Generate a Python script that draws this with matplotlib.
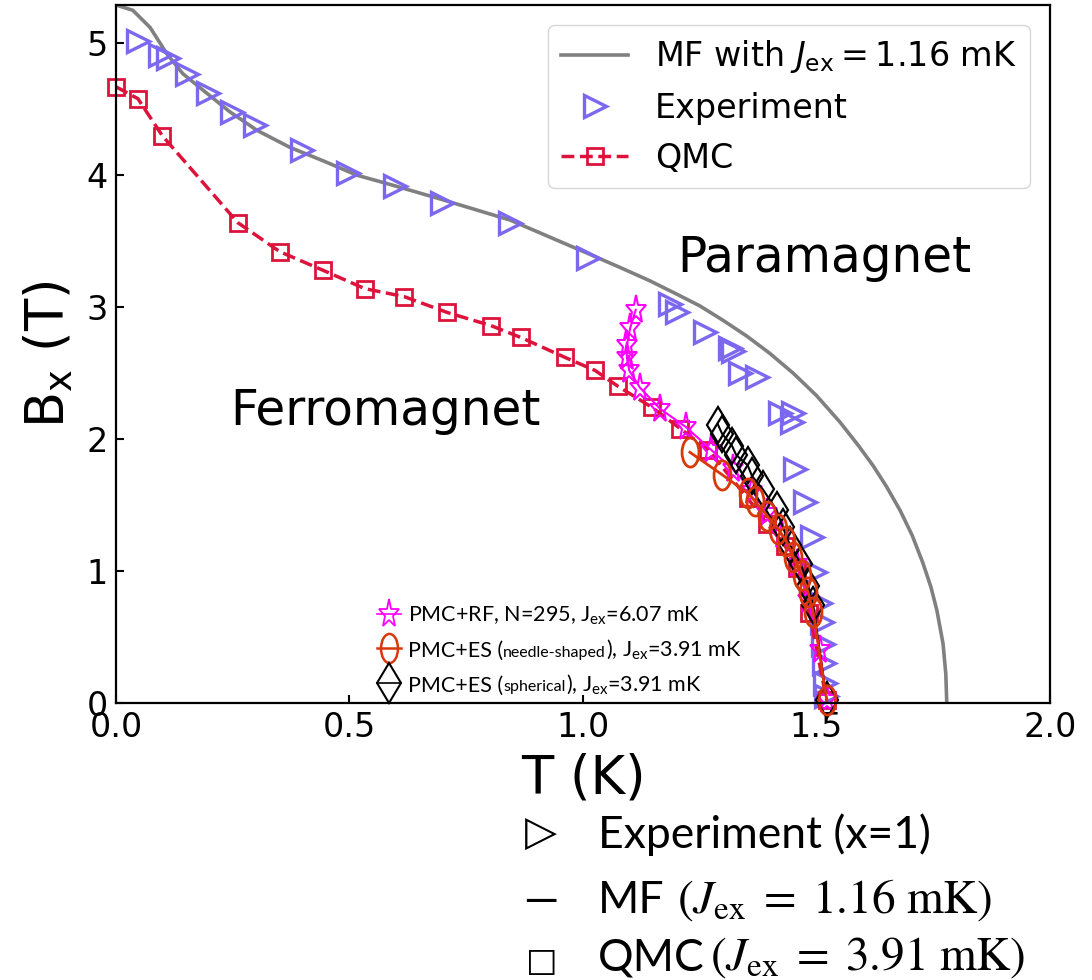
import matplotlib
matplotlib.use("Agg")
import matplotlib.pyplot as plt
from matplotlib.markers import MarkerStyle
from matplotlib.transforms import Affine2D
from matplotlib.offsetbox import AnchoredOffsetbox, HPacker, VPacker, TextArea, DrawingArea
from matplotlib.lines import Line2D

# ---------------- data ----------------
MF_T = [0.0, 0.036, 0.073, 0.109, 0.143, 0.195, 0.244, 0.302, 0.373, 0.443, 0.516,
        0.587, 0.694, 0.844, 1.015, 1.08, 1.143, 1.20, 1.25, 1.30, 1.351, 1.40,
        1.45, 1.50, 1.55, 1.59, 1.621, 1.65, 1.679, 1.705, 1.728, 1.745, 1.758,
        1.771, 1.777, 1.779]
MF_B = [5.29, 5.25, 5.12, 4.92, 4.77, 4.62, 4.48, 4.34, 4.21, 4.11, 4.00,
        3.93, 3.82, 3.66, 3.40, 3.30, 3.20, 3.10, 3.01, 2.90, 2.78, 2.65,
        2.50, 2.33, 2.13, 1.95, 1.80, 1.64, 1.46, 1.27, 1.06, 0.88, 0.70,
        0.45, 0.22, 0.0]

EXP_T = [0.047, 0.094, 0.111, 0.152, 0.197, 0.248, 0.298, 0.398, 0.497, 0.597,
         0.698, 0.844, 1.011, 1.186, 1.201, 1.261, 1.315, 1.321, 1.336, 1.373,
         1.422, 1.450, 1.448, 1.454, 1.475, 1.490, 1.497, 1.507, 1.512, 1.514,
         1.516, 1.518, 1.520]
EXP_B = [5.02, 4.91, 4.89, 4.77, 4.62, 4.48, 4.38, 4.19, 4.02, 3.92,
         3.79, 3.64, 3.37, 3.02, 2.96, 2.81, 2.69, 2.67, 2.50, 2.47,
         2.20, 2.20, 2.13, 1.77, 1.52, 1.26, 0.99, 0.76, 0.61, 0.45,
         0.30, 0.15, 0.05]

QMC_T = [0.0, 0.047, 0.099, 0.261, 0.351, 0.443, 0.533, 0.617, 0.709, 0.803,
         0.867, 0.961, 1.026, 1.075, 1.148, 1.208, 1.268, 1.353, 1.394, 1.433,
         1.458, 1.485, 1.522]
QMC_B = [4.67, 4.58, 4.30, 3.64, 3.42, 3.28, 3.14, 3.08, 2.96, 2.86,
         2.77, 2.62, 2.52, 2.40, 2.24, 2.08, 1.92, 1.55, 1.36, 1.19,
         1.02, 0.68, 0.02]

RF_T = [1.113, 1.101, 1.094, 1.094, 1.099, 1.122, 1.165, 1.221, 1.274, 1.321,
        1.362, 1.394, 1.426, 1.458, 1.482, 1.507, 1.522]
RF_B = [2.98, 2.84, 2.71, 2.62, 2.52, 2.39, 2.23, 2.09, 1.92, 1.77,
        1.61, 1.44, 1.27, 1.05, 0.78, 0.40, 0.02]

NEEDLE_T = [1.229, 1.298, 1.353, 1.368, 1.394, 1.418, 1.435, 1.450, 1.469, 1.482,
            1.493, 1.522]
NEEDLE_B = [1.90, 1.73, 1.59, 1.53, 1.42, 1.32, 1.23, 1.11, 0.97, 0.84,
            0.69, 0.02]

SPH_T = [1.289, 1.298, 1.319, 1.328, 1.353, 1.362, 1.385, 1.415, 1.428, 1.443,
         1.467, 1.482, 1.493, 1.522]
SPH_B = [2.11, 2.04, 1.95, 1.88, 1.80, 1.72, 1.62, 1.46, 1.33, 1.20,
         1.05, 0.89, 0.74, 0.02]

X_TICKS = [0.0, 0.5, 1.0, 1.5, 2.0]
X_TICKLABELS = ["0.0", "0.5", "1.0", "1.5", "2.0"]
Y_TICKS = [0, 1, 2, 3, 4, 5]
Y_TICKLABELS = ["0", "1", "2", "3", "4", "5"]

# ---------------- figure ----------------
fig = plt.figure(figsize=(10.92, 9.8), dpi=100)
ax = fig.add_axes([0.1062, 0.2827, 0.8553, 0.7122])

C_EXP = "#7B68EE"
C_QMC = "#DC143C"
C_RF = "#FF00FF"
C_NEEDLE = "#D9380A"

mf, = ax.plot(MF_T, MF_B, color="#808080", lw=2.6,
              label=r"MF with $J_{\rm ex} = 1.16$ mK")
exp, = ax.plot(EXP_T, EXP_B, ls="none", marker=">", ms=16, mfc="none",
               mec=C_EXP, mew=2.4, label="Experiment", clip_on=False)
qmc, = ax.plot(QMC_T, QMC_B, ls="--", color=C_QMC, lw=2.5, marker="s", ms=12,
               mfc="none", mew=2, label="QMC", clip_on=False)

star_m = MarkerStyle("*", fillstyle="none", transform=Affine2D().scale(0.72, 1.0))
ell_m = MarkerStyle("o", fillstyle="none", transform=Affine2D().scale(0.58, 1.0))

rf, = ax.plot(RF_T, RF_B, color=C_RF, lw=1.5, marker=star_m, ms=21, mew=1.5,
              clip_on=False)
sph, = ax.plot(SPH_T, SPH_B, color="black", lw=1.5, marker="d", ms=18, mfc="none",
               mew=1.6, clip_on=False)
ndl, = ax.plot(NEEDLE_T, NEEDLE_B, color=C_NEEDLE, lw=2, marker=ell_m, ms=21,
               mew=2, clip_on=False)

ax.set_xlim(0, 2.0)
ax.set_ylim(0, 5.29)
ax.set_xticks(X_TICKS)
ax.set_xticklabels(X_TICKLABELS)
ax.set_yticks(Y_TICKS)
ax.set_yticklabels(Y_TICKLABELS)
ax.tick_params(direction="in", length=6, width=1.5, labelsize=24, pad=6)
for s in ax.spines.values():
    s.set_linewidth(1.6)

ax.set_xlabel("T (K)", fontsize=38, labelpad=6)
ax.set_ylabel(r"B$_\mathregular{x}$ (T)", fontsize=38, labelpad=8)

ax.text(1.201, 3.27, "Paramagnet", fontsize=35, va="baseline", ha="left")
ax.text(0.244, 2.11, "Ferromagnet", fontsize=35, va="baseline", ha="left")

leg = ax.legend(handles=[mf, exp, qmc], loc="upper right", fontsize=24,
                borderaxespad=0.6)

# ---------------- PMC legend (mixed text sizes) ----------------
LFONT = ["Lato", "DejaVu Sans"]
big = dict(fontsize=15.5, family=LFONT)
small = dict(fontsize=11.5, family=LFONT)


def handle(color, marker, ms, lw, mew):
    da = DrawingArea(17, 20, 0, 4)
    da.add_artist(Line2D([0, 17], [6, 6], color=color, lw=lw))
    da.add_artist(Line2D([8.5], [6], color=color, lw=0, marker=marker, ms=ms,
                         mfc="none", mew=mew))
    return da


rows = []
rows.append(HPacker(children=[handle(C_RF, star_m, 21, 1.2, 1.3),
                              TextArea(r"PMC+RF, N=295, J$_\mathregular{ex}$=6.07 mK",
                                       textprops=big)],
                    align="baseline", pad=0, sep=5))
rows.append(HPacker(children=[handle(C_NEEDLE, ell_m, 21, 1.8, 1.8),
                              HPacker(children=[TextArea("PMC+ES (", textprops=big),
                                                TextArea("needle-shaped", textprops=small),
                                                TextArea(r"), J$_\mathregular{ex}$=3.91 mK",
                                                         textprops=big)],
                                      align="baseline", pad=0, sep=0)],
                    align="baseline", pad=0, sep=5))
rows.append(HPacker(children=[handle("black", "d", 20, 1.2, 1.5),
                              HPacker(children=[TextArea("PMC+ES (", textprops=big),
                                                TextArea("spherical", textprops=small),
                                                TextArea(r"), J$_\mathregular{ex}$=3.91 mK",
                                                         textprops=big)],
                                      align="baseline", pad=0, sep=0)],
                    align="baseline", pad=0, sep=5))
box = VPacker(children=rows, align="left", pad=0, sep=5)
anch = AnchoredOffsetbox(loc="upper left", child=box, pad=0, borderpad=0,
                         frameon=False, bbox_to_anchor=(0.28, 0.148),
                         bbox_transform=ax.transAxes)
ax.add_artist(anch)

# ---------------- annotation below the axes ----------------
W, H = 1092.0, 980.0
TXT = ["Lato", "DejaVu Sans"]
fig.text(541 / W, 1 - 834 / H, "\u25B7", fontsize=30, family="DejaVu Sans",
         ha="center", va="center")
fig.text(541 / W, 1 - 901 / H, "\u2014", fontsize=32, family=TXT,
         ha="center", va="center")
fig.text(542 / W, 1 - 961 / H, "\u25A1", fontsize=24, family="DejaVu Sans",
         ha="center", va="center")

fig.text(598 / W, 1 - 848 / H, "Experiment (x=1)", fontsize=32, family=TXT,
         va="baseline")
fig.text(598 / W, 1 - 913 / H, "MF", fontsize=32, family=TXT, va="baseline")
fig.text(677 / W, 1 - 913 / H, r"$(J_{\mathrm{ex}}\;=\;1.16\ \mathrm{mK})$",
         fontsize=34, math_fontfamily="stix", va="baseline")
fig.text(598 / W, 1 - 970 / H, "QMC", fontsize=32, family=TXT, va="baseline")
fig.text(710 / W, 1 - 970 / H, r"$(J_{\mathrm{ex}}\;=\;3.91\ \mathrm{mK})$",
         fontsize=34, math_fontfamily="stix", va="baseline")

fig.savefig("out.png", dpi=100)
